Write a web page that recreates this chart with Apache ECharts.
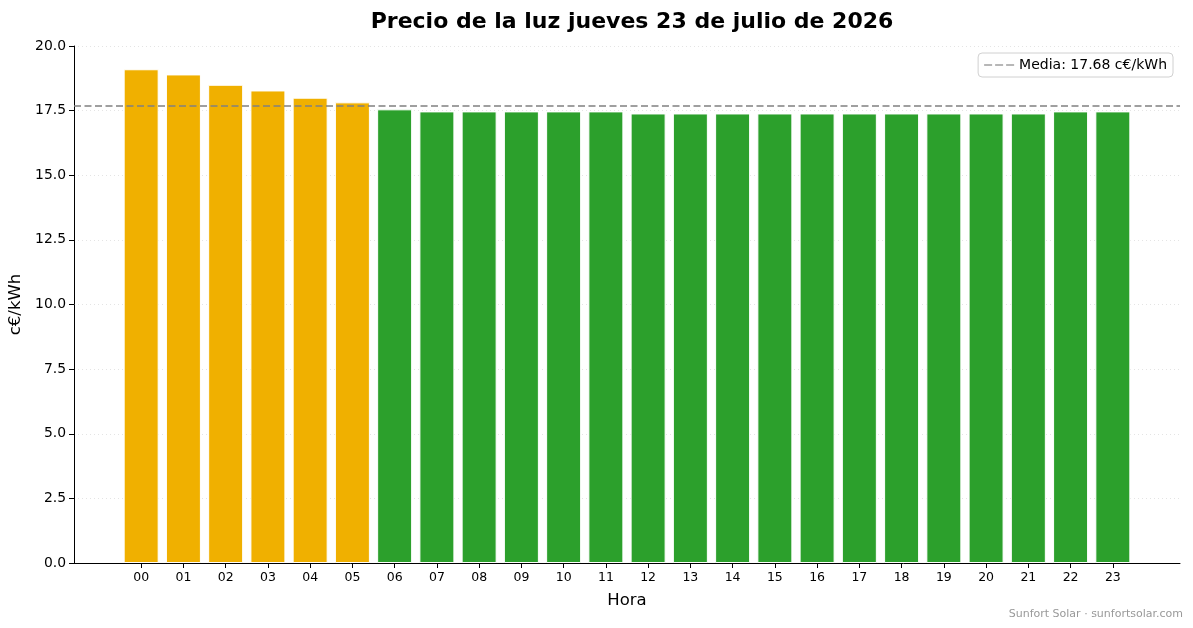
<!DOCTYPE html>
<html>
<head>
<meta charset="utf-8">
<script src="https://cdn.jsdelivr.net/npm/echarts@6/dist/echarts.min.js"></script>
<style>
  html, body { margin: 0; padding: 0; background: #fff; }
  #priceChart { width: 1193px; height: 628px; }
</style>
</head>
<body>
<div id="priceChart"></div>
<script>
// ==========================================================================
// Hourly electricity price data (c€/kWh)
// ==========================================================================

var hours = ['00', '01', '02', '03', '04', '05', '06', '07', '08', '09', '10', '11',
             '12', '13', '14', '15', '16', '17', '18', '19', '20', '21', '22', '23'];
var prices = [19.10, 18.90, 18.50, 18.28, 18.00, 17.82, 17.55, 17.47, 17.47, 17.47, 17.47, 17.47,
              17.39, 17.39, 17.39, 17.39, 17.39, 17.39, 17.39, 17.39, 17.39, 17.39, 17.47, 17.47];

var titleText = 'Precio de la luz jueves 23 de julio de 2026';
var footerText = 'Sunfort Solar · sunfortsolar.com';

// ==========================================================================
// Chart
// ==========================================================================

var priceChart = echarts.init(document.getElementById('priceChart'));

var mean = prices.reduce((a, b) => a + b, 0) / prices.length;
var meanLabel = 'Media: ' + mean.toFixed(2) + ' c€/kWh';

// matplotlib-like limits: bars 0.8 wide, 5% margins
var halfBar = 0.4;
var span = (hours.length - 1) + 2 * halfBar;
var xMin = -halfBar - 0.05 * span;
var xMax = (hours.length - 1) + halfBar + 0.05 * span;

var hourIndex = hours.map((h, i) => i);

var barData = prices.map((p, i) => ({
    value: [i, p],
    itemStyle: { color: p > mean ? '#f0b000' : '#2ca02c' }
}));

priceChart.setOption({
    animation: false,
    textStyle: { fontFamily: 'DejaVu Sans' },
    title: {
        text: titleText,
        left: 627,
        textAlign: 'center',
        top: 6,
        textStyle: {
            fontSize: 22,
            fontWeight: 'bold',
            color: '#000'
        }
    },
    grid: {
        left: 74,
        right: 13,
        top: 46,
        bottom: 65,
        outerBoundsMode: 'none',
        containLabel: false
    },
    legend: {
        data: [{
            name: meanLabel,
            icon: 'path://M0,0h8v1h-8z M11,0h8v1h-8z M22,0h8v1h-8z'
        }],
        right: 20,
        top: 53,
        orient: 'vertical',
        padding: [5, 6, 5, 6],
        itemWidth: 30,
        itemHeight: 2,
        borderColor: '#d0d0d0',
        borderWidth: 1,
        borderRadius: 4,
        backgroundColor: '#fff',
        itemStyle: { color: '#707070' },
        textStyle: { fontSize: 14, color: '#000' }
    },
    xAxis: {
        type: 'value',
        min: xMin,
        max: xMax,
        name: 'Hora',
        nameLocation: 'middle',
        nameGap: 29,
        nameTextStyle: { fontSize: 16.5, color: '#000' },
        axisLine: { show: true, onZero: false, lineStyle: { color: '#000', width: 1 } },
        axisTick: {
            show: true,
            inside: false,
            length: 5,
            customValues: hourIndex,
            lineStyle: { color: '#000' }
        },
        axisLabel: {
            customValues: hourIndex,
            fontSize: 12.5,
            color: '#000',
            margin: 8,
            formatter: function(value) {
                return hours[Math.round(value)];
            }
        },
        splitLine: { show: false }
    },
    yAxis: {
        type: 'value',
        min: 0,
        max: 20,
        interval: 2.5,
        name: 'c€/kWh',
        nameLocation: 'middle',
        nameRotate: 90,
        nameGap: 47,
        nameTextStyle: { fontSize: 16.5, color: '#000' },
        axisLine: { show: true, onZero: false, lineStyle: { color: '#000', width: 1 } },
        axisTick: { show: true, inside: false, length: 5, lineStyle: { color: '#000' } },
        axisLabel: {
            fontSize: 13.9,
            color: '#000',
            margin: 8,
            formatter: function(value) {
                return value.toFixed(1);
            }
        },
        splitLine: {
            show: true,
            lineStyle: { color: '#dddddd', width: 0.8, type: [1, 3] }
        }
    },
    series: [
        {
            name: 'Precio',
            type: 'bar',
            barWidth: 35,
            data: barData,
            z: 2,
            itemStyle: {
                borderColor: '#fff',
                borderWidth: 1
            }
        },
        {
            name: meanLabel,
            type: 'line',
            data: [[xMin, mean], [xMax, mean]],
            symbol: 'none',
            z: 3,
            itemStyle: { color: '#808080' },
            lineStyle: {
                color: '#808080',
                width: 1.5,
                type: [7, 3.5]
            }
        }
    ],
    graphic: [
        {
            type: 'text',
            right: 10,
            bottom: 8,
            style: {
                text: footerText,
                fill: '#999',
                fontSize: 11,
                fontFamily: 'DejaVu Sans'
            }
        }
    ]
});
</script>
</body>
</html>
